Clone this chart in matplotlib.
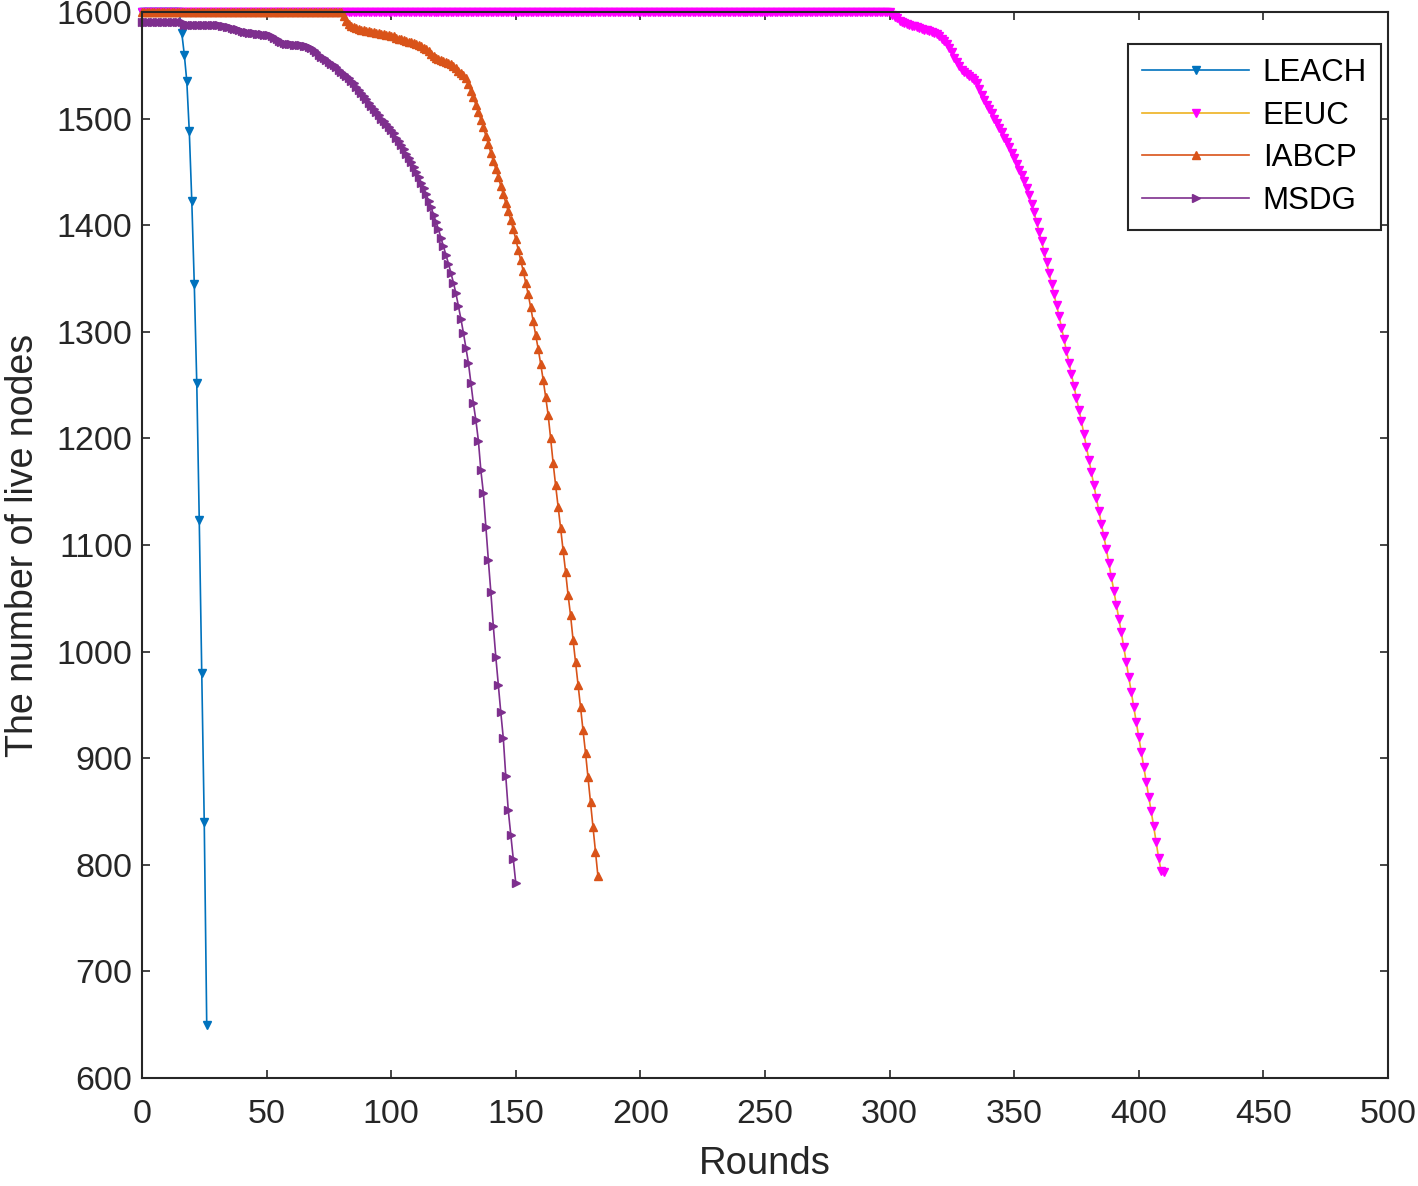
"""
Live nodes per round for LEACH, EEUC, IABCP and MSDG.
"""

import matplotlib
matplotlib.use("Agg")
import matplotlib.pyplot as plt
import numpy as np

# Live nodes per round (round index starts at 0)
leach_nodes = [1600] * 16 + [1580, 1560, 1535, 1488, 1423, 1345, 1252, 1123, 980, 840, 650]

eeuc_nodes = [1600] * 301 + [
    1597, 1595, 1594, 1592, 1591, 1590, 1589, 1588, 1587, 1587,
    1586, 1585, 1584, 1583, 1583, 1582, 1581, 1580, 1579, 1577,
    1575, 1573, 1570, 1566, 1562, 1557, 1553, 1549, 1546, 1544,
    1542, 1540, 1538, 1536, 1533, 1528, 1522, 1517, 1513, 1509,
    1505, 1500, 1496, 1491, 1487, 1482, 1478, 1473, 1468, 1463,
    1457, 1452, 1447, 1441, 1435, 1428, 1420, 1412, 1403, 1394,
    1385, 1375, 1365, 1355, 1345, 1335, 1325, 1315, 1304, 1293,
    1282, 1271, 1260, 1249, 1238, 1227, 1216, 1204, 1192, 1180,
    1168, 1156, 1144, 1132, 1120, 1108, 1096, 1083, 1070, 1057,
    1044, 1031, 1018, 1004, 990, 976, 962, 948, 934, 920,
    906, 892, 878, 864, 850, 836, 821, 806, 794, 793,
]

iabcp_nodes = [1600] * 81 + [
    1596, 1592, 1589, 1587, 1586, 1585, 1584, 1583, 1583, 1582,
    1582, 1581, 1581, 1580, 1580, 1579, 1579, 1578, 1578, 1577,
    1577, 1576, 1575, 1575, 1574, 1573, 1572, 1572, 1571, 1570,
    1569, 1568, 1566, 1565, 1563, 1561, 1559, 1557, 1556, 1555,
    1554, 1553, 1552, 1551, 1549, 1547, 1545, 1543, 1541, 1538,
    1532, 1526, 1520, 1513, 1506, 1499, 1492, 1484, 1476, 1468,
    1460, 1453, 1445, 1437, 1429, 1421, 1413, 1405, 1396, 1387,
    1377, 1367, 1357, 1346, 1335, 1323, 1310, 1297, 1284, 1270,
    1255, 1239, 1222, 1200, 1177, 1156, 1136, 1116, 1095, 1075,
    1053, 1034, 1011, 990, 969, 948, 926, 905, 882, 859,
    835, 812, 789,
]

msdg_nodes = [1591] * 17 + [1588] * 15 + [
    1587, 1587, 1586, 1586, 1585, 1584, 1584, 1583, 1582, 1581,
    1581, 1580, 1580, 1580, 1579, 1579, 1579, 1578, 1578, 1578,
    1577, 1576, 1575, 1573, 1572, 1571, 1570, 1570, 1570, 1569,
    1569, 1569, 1569, 1568, 1568, 1567, 1566, 1564, 1562, 1560,
    1558, 1557, 1555, 1553, 1551, 1550, 1548, 1546, 1544, 1542,
    1540, 1538, 1535, 1533, 1530, 1527, 1524, 1521, 1518, 1515,
    1512, 1509, 1506, 1503, 1500, 1498, 1495, 1492, 1489, 1486,
    1482, 1479, 1475, 1471, 1467, 1463, 1459, 1455, 1450, 1445,
    1440, 1435, 1429, 1423, 1417, 1410, 1403, 1396, 1388, 1380,
    1372, 1364, 1355, 1346, 1336, 1324, 1312, 1299, 1285, 1271,
    1252, 1233, 1217, 1198, 1170, 1149, 1117, 1086, 1056, 1024,
    995, 969, 943, 919, 883, 851, 828, 805, 783,
]

labels = ["LEACH", "EEUC", "IABCP", "MSDG"]

plt.rcParams["font.family"] = ["Liberation Sans", "DejaVu Sans"]

fig = plt.figure(figsize=(14.18, 11.86), dpi=100)
ax = fig.add_axes([0.1001, 0.0911, 0.8787, 0.8988])

ms = 6
lw = 1.2

# LEACH
ax.plot(np.arange(len(leach_nodes)), leach_nodes, color="#0072BD", marker="v",
        markersize=ms, markerfacecolor="#0072BD", lw=lw, label=labels[0], clip_on=False)
# EEUC: yellow line, magenta markers
ax.plot(np.arange(len(eeuc_nodes)), eeuc_nodes, color="#EDB120", marker="v",
        markersize=ms, markerfacecolor="#FF00FF", markeredgecolor="#FF00FF",
        lw=lw, label=labels[1], clip_on=False)
# IABCP
ax.plot(np.arange(len(iabcp_nodes)), iabcp_nodes, color="#D95319", marker="^",
        markersize=ms, markerfacecolor="#D95319", lw=lw, label=labels[2], clip_on=False)
# MSDG
ax.plot(np.arange(len(msdg_nodes)), msdg_nodes, color="#7E2F8E", marker=">",
        markersize=ms, markerfacecolor="#7E2F8E", lw=lw, label=labels[3], clip_on=False)

ax.set_xlim(0, 500)
ax.set_ylim(600, 1600)
ax.set_xticks(np.arange(0, 501, 50))
ax.set_yticks(np.arange(600, 1601, 100))

ax.tick_params(direction="in", top=True, right=True, length=6, width=1.2,
               labelsize=24.5, colors="#262626")
ax.tick_params(axis="x", pad=15)
ax.tick_params(axis="y", pad=7)
for s in ax.spines.values():
    s.set_color("#262626")
    s.set_linewidth(1.5)

ax.set_xlabel("Rounds", fontsize=27.5, color="#262626")
ax.set_ylabel("The number of live nodes", fontsize=27, color="#262626")
ax.xaxis.set_label_coords(0.5, -0.064)
ax.yaxis.set_label_coords(-0.081, 0.5)

leg = ax.legend(loc="upper right", bbox_to_anchor=(0.9944, 0.970), borderaxespad=0,
                fontsize=22.5, handlelength=3.4, handletextpad=0.45, fancybox=False,
                edgecolor="#262626", framealpha=1, labelspacing=0.4, borderpad=0.45)
leg.get_frame().set_linewidth(1.5)

fig.savefig("out.png", dpi=100)
